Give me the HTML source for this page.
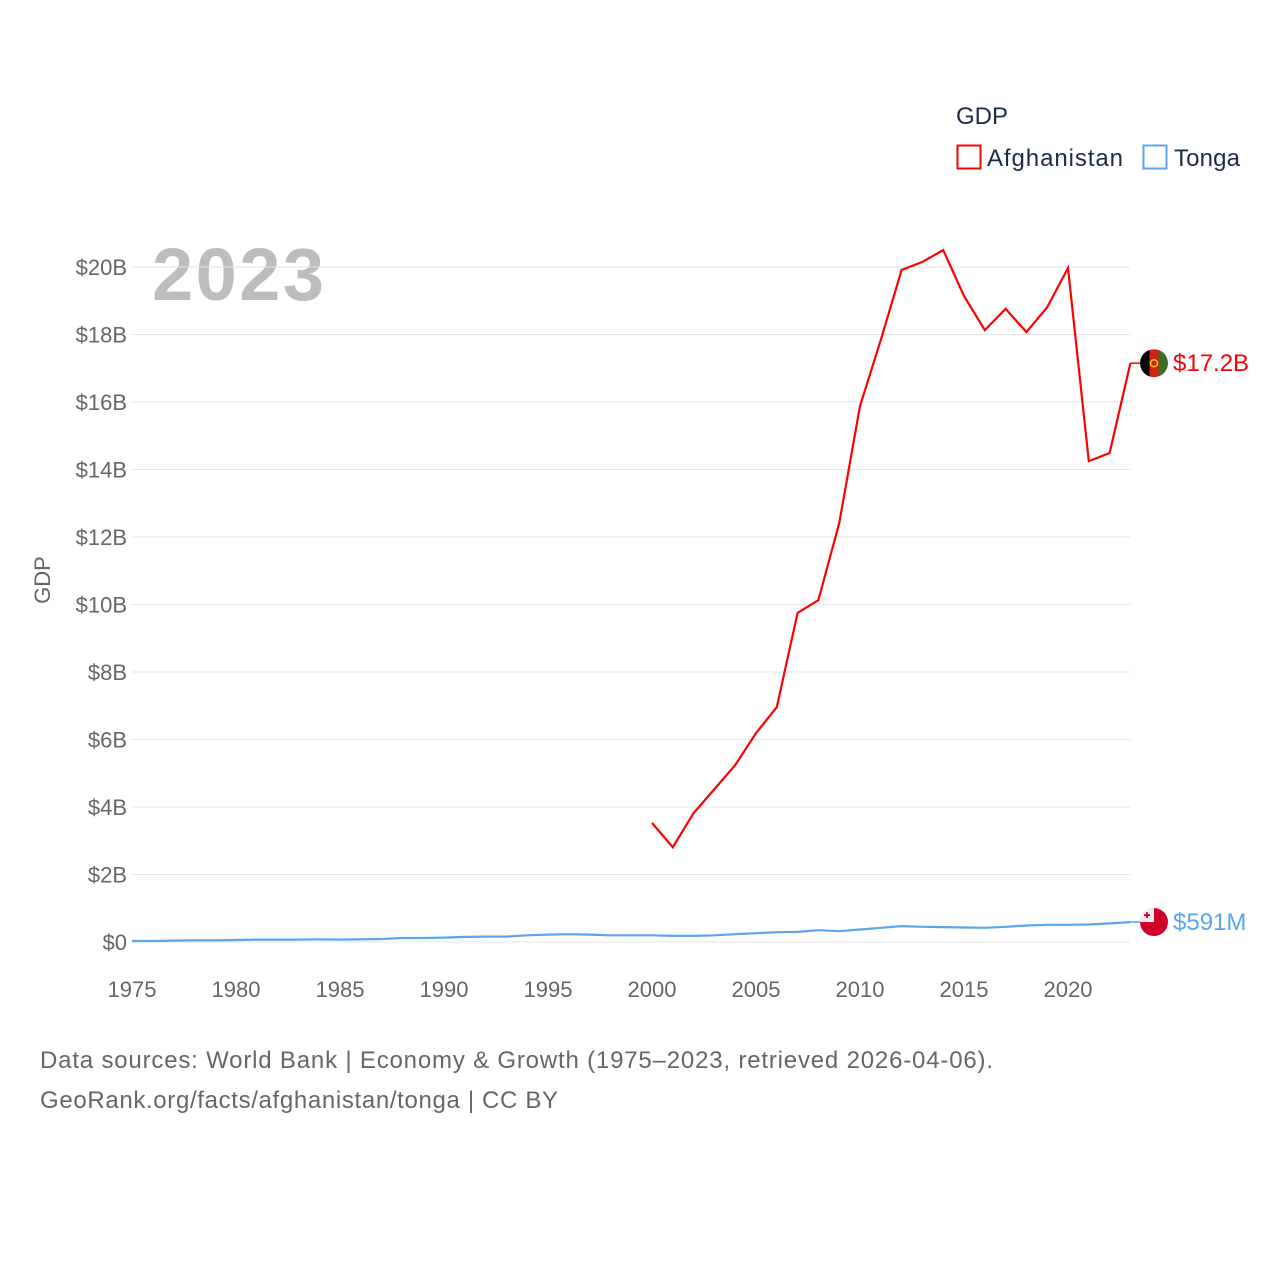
<!DOCTYPE html>
<html><head><meta charset="utf-8"><style>
body{margin:0;background:#fff;font-family:"Liberation Sans",sans-serif}
svg text{font-family:"Liberation Sans",sans-serif}
</style></head><body>
<svg id="chart" width="1280" height="1280">
<text x="956" y="124" font-size="24" fill="#1d2b47">GDP</text>
<rect x="957.5" y="145.5" width="23" height="23" fill="none" stroke="#f00" stroke-width="2"/>
<text x="987" y="166" font-size="24" fill="#1d2b47" textLength="136">Afghanistan</text>
<rect x="1143.5" y="145.5" width="23" height="23" fill="none" stroke="#5aa5f0" stroke-width="2"/>
<text x="1174" y="166" font-size="24" fill="#1d2b47" textLength="66">Tonga</text>
<text x="152" y="300" font-size="74" font-weight="bold" fill="#bdbdbd" textLength="172">2023</text>
<text transform="translate(50,580) rotate(-90)" text-anchor="middle" font-size="22" fill="#666">GDP</text>
<g id="grid"></g><g id="yt"></g><g id="xt"></g><g id="lines"></g>
<text x="40" y="1068" font-size="24" fill="#666" textLength="953">Data sources: World Bank | Economy &amp; Growth (1975–2023, retrieved 2026-04-06).</text>
<text x="40" y="1108" font-size="24" fill="#666" textLength="518">GeoRank.org/facts/afghanistan/tonga | CC BY</text>
</svg>
<script>
const yTicks=[0,2,4,6,8,10,12,14,16,18,20];
const yTickLabels=["$0","$2B","$4B","$6B","$8B","$10B","$12B","$14B","$16B","$18B","$20B"];
const xTicks=[1975,1980,1985,1990,1995,2000,2005,2010,2015,2020];
const afgYears=[2000,2001,2002,2003,2004,2005,2006,2007,2008,2009,2010,2011,2012,2013,2014,2015,2016,2017,2018,2019,2020,2021,2022,2023];
const afgValues=[3.53,2.81,3.82,4.53,5.24,6.19,6.96,9.75,10.13,12.41,15.88,17.84,19.91,20.15,20.5,19.14,18.13,18.76,18.07,18.81,19.97,14.25,14.49,17.15];
const tonYears=[1975,1976,1977,1978,1979,1980,1981,1982,1983,1984,1985,1986,1987,1988,1989,1990,1991,1992,1993,1994,1995,1996,1997,1998,1999,2000,2001,2002,2003,2004,2005,2006,2007,2008,2009,2010,2011,2012,2013,2014,2015,2016,2017,2018,2019,2020,2021,2022,2023];
const tonValues=[0.03,0.03,0.04,0.05,0.05,0.06,0.07,0.07,0.07,0.08,0.07,0.08,0.09,0.12,0.12,0.13,0.15,0.16,0.16,0.2,0.22,0.23,0.22,0.2,0.2,0.2,0.18,0.18,0.2,0.23,0.26,0.29,0.3,0.35,0.32,0.37,0.42,0.47,0.45,0.44,0.43,0.42,0.45,0.49,0.51,0.51,0.52,0.55,0.591];
const afgLabel="$17.2B", tonLabel="$591M";
const NS="http://www.w3.org/2000/svg";
const X=y=>132+(y-1975)*(936/45);
const Y=v=>942-v*33.75;
function mk(t,a,p){const e=document.createElementNS(NS,t);for(const k in a)e.setAttribute(k,a[k]);p.appendChild(e);return e;}
const grid=document.getElementById('grid'),yt=document.getElementById('yt'),xt=document.getElementById('xt'),lines=document.getElementById('lines');
yTicks.forEach((v,i)=>{
 const l=mk('line',{x1:132,x2:1130,y1:Y(v),y2:Y(v),stroke:'#e6e6e6','stroke-width':1},grid);
 
 
 const t=mk('text',{x:127,y:Y(v)+8,'text-anchor':'end','font-size':22,fill:'#666'},yt);
 t.textContent=yTickLabels[i];
 
 
});
xTicks.forEach(v=>{
 const t=mk('text',{x:X(v),y:997,'text-anchor':'middle','font-size':22,fill:'#666'},xt);
 t.textContent=v;
 
 
});
function series(years,vals,color,name,label){
 const d=years.map((y,i)=>(i?'L':'M')+X(y).toFixed(1)+','+Y(vals[i]).toFixed(1)).join('');
 const p=mk('path',{d:d,fill:'none',stroke:color,'stroke-width':2.2},lines);
 
 
 const ly=Y(vals[vals.length-1]);
 const c=mk('line',{x1:X(years[years.length-1]),x2:1142,y1:ly,y2:ly,stroke:color,'stroke-width':1.5},lines);
 
 
 const g=mk('g',{},lines);
 
 
 const cx=1154;
 if(name==='afghanistan'){
  mk('clipPath',{id:'ca'},g);
  mk('circle',{cx:cx,cy:ly,r:14},g.lastChild);
  const gg=mk('g',{'clip-path':'url(#ca)'},g);
  mk('rect',{x:cx-14,y:ly-14,width:10,height:28,fill:'#000'},gg);
  mk('rect',{x:cx-4.5,y:ly-14,width:9,height:28,fill:'#d32011'},gg);
  mk('rect',{x:cx+4.5,y:ly-14,width:10,height:28,fill:'#3f6b2b'},gg);
  mk('circle',{cx:cx,cy:ly,r:3.5,fill:'none',stroke:'#f5c518','stroke-width':1.5},gg);
 }else{
  mk('clipPath',{id:'ct'},g);
  mk('circle',{cx:cx,cy:ly,r:14},g.lastChild);
  const gg=mk('g',{'clip-path':'url(#ct)'},g);
  mk('rect',{x:cx-14,y:ly-14,width:28,height:28,fill:'#d0002a'},gg);
  mk('rect',{x:cx-14,y:ly-14,width:14,height:14,fill:'#eee'},gg);
  mk('path',{d:`M${cx-7},${ly-10}v6M${cx-10},${ly-7}h6`,stroke:'#d0002a','stroke-width':1.8},gg);
 }
 const t=mk('text',{x:1173,y:ly+8,'font-size':24,fill:color},lines);
 t.textContent=label;
 
 
}
series(tonYears,tonValues,'#5aa5f0','tonga',tonLabel);
series(afgYears,afgValues,'#f00','afghanistan',afgLabel);
</script>
</body></html>
